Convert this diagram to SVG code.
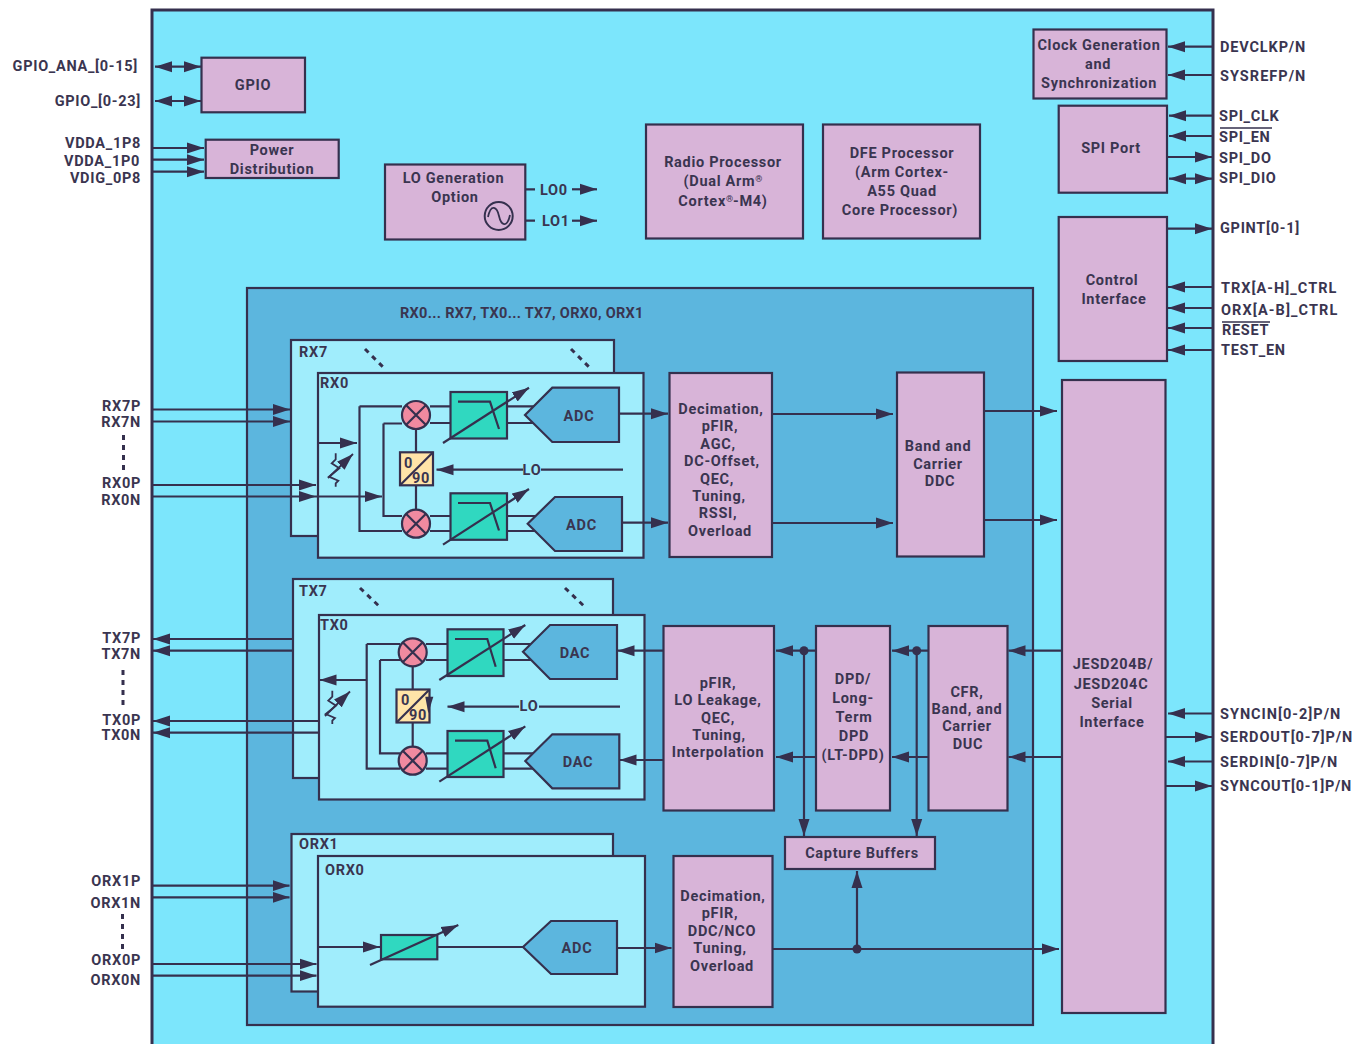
<svg xmlns="http://www.w3.org/2000/svg" width="1365" height="1044" viewBox="0 0 1365 1044">
<style>
text{font-family:"Roboto","Liberation Sans",sans-serif;font-weight:700;font-size:14.5px;letter-spacing:.7px;fill:#3a3550}
.m{text-anchor:middle}.e{text-anchor:end}
.sup{font-size:9px;letter-spacing:0}
.b{fill:#d8b4d8;stroke:#35304e;stroke-width:2.2}
.l{fill:#a0edfc;stroke:#35304e;stroke-width:2.2}
.c{fill:#5cb6de;stroke:#35304e;stroke-width:2.2}
.t{fill:#30d8c0;stroke:#35304e;stroke-width:2.2}
.k{fill:none;stroke:#35304e;stroke-width:2.2}
.mx{fill:#f08aa0;stroke:#35304e;stroke-width:2.2}
.y{fill:#ffe4a8;stroke:#35304e;stroke-width:2.2}
.a{marker-end:url(#ah)}
.d{marker-end:url(#ah);marker-start:url(#as)}
.ds{fill:none;stroke:#35304e;stroke-width:3;stroke-dasharray:5 5}
.dot{fill:#35304e}
</style>
<defs>
<marker id="ah" markerUnits="userSpaceOnUse" markerWidth="18" markerHeight="12" refX="17" refY="6" orient="auto"><path d="M0,0.5L17,6L0,11.5z" fill="#35304e"/></marker>
<marker id="as" markerUnits="userSpaceOnUse" markerWidth="18" markerHeight="12" refX="1" refY="6" orient="auto"><path d="M18,0.5L1,6L18,11.5z" fill="#35304e"/></marker>
</defs>
<rect width="1365" height="1044" fill="#fff"/>
<rect id="chip" x="152" y="10" width="1061" height="1050" fill="#7ce6fc" stroke="#35304e" stroke-width="3"/>
<g id="transceiver"><rect class="c" x="247" y="288" width="786" height="737"/><text x="400" y="318" style="letter-spacing:.3px">RX0... RX7, TX0... TX7, ORX0, ORX1</text></g>

<g id="gpio"><rect class="b" x="201.5" y="57.7" width="103.5" height="54.6"/><text class="m" x="253" y="90">GPIO</text></g>
<g id="power"><rect class="b" x="205.7" y="139.7" width="133" height="38.3"/><text class="m" x="272" y="155">Power</text><text class="m" x="272" y="174">Distribution</text></g>
<g id="lo-gen"><rect class="b" x="385" y="164.5" width="140.3" height="75"/><text class="m" x="453.5" y="183">LO Generation</text><text class="m" x="455" y="202">Option</text><circle cx="498.7" cy="216" r="14" fill="none" stroke="#35304e" stroke-width="2"/><path class="k" style="stroke-width:1.8" d="M488,217C491,203 497,207 499,216S507,229 510,215"/></g>
<g id="radio"><rect class="b" x="646" y="124.5" width="157" height="114"/><text class="m" x="723" y="167">Radio Processor</text><text class="m" x="723" y="186">(Dual Arm<tspan class="sup" dy="-4">®</tspan></text><text class="m" x="723" y="206">Cortex<tspan class="sup" dy="-4">®</tspan><tspan dy="4">-M4)</tspan></text></g>
<g id="dfe"><rect class="b" x="823" y="124.5" width="157" height="114"/><text class="m" x="902" y="158">DFE Processor</text><text class="m" x="902" y="177">(Arm Cortex-</text><text class="m" x="902" y="196">A55 Quad</text><text class="m" x="900" y="215">Core Processor)</text></g>
<g id="clock"><rect class="b" x="1033.5" y="29.5" width="133" height="69"/><text class="m" x="1099" y="50">Clock Generation</text><text class="m" x="1098" y="69">and</text><text class="m" x="1099" y="88">Synchronization</text></g>
<g id="spi"><rect class="b" x="1058.7" y="105.7" width="108.3" height="87"/><text class="m" x="1111" y="153">SPI Port</text></g>
<g id="control"><rect class="b" x="1058.7" y="217" width="108.3" height="144"/><text class="m" x="1112" y="285">Control</text><text class="m" x="1114" y="304">Interface</text></g>

<g id="rx7"><rect class="l" x="291" y="340" width="323" height="196"/><text x="299" y="357">RX7</text><path class="ds" d="M365,349L385,369M571,349L591,369"/></g>
<g id="rx0"><rect class="l" x="318" y="373" width="325.5" height="184.7"/><text x="320" y="388">RX0</text>
<path class="k" d="M359.5,406.3H402M359.5,406.3V531H402M383.5,423.5H402M383.5,423.5V516H402M430,406.3H450M430,423H450M430,516H450M430,531H450M507,406.3H537M507,423H537M507,516H540M507,531H540M416,429V452M416,485V510"/>
<path class="k a" d="M318,443H357"/><path class="k a" d="M523,469.7H436.5"/><path class="k" d="M623,469.7H541"/><text class="m" x="532" y="474.5">LO</text>
<path class="k" style="stroke-width:1.8" d="M335.7,453.3V459.3L331.7,463.3L339.3,468.3L329,476.7L338.3,480.7L335.7,483.3V486.7"/><path class="k a" style="stroke-width:1.8" d="M328,478L353,454"/>
<g><circle class="mx" cx="416" cy="415" r="14"/><path class="k" d="M406,405L426,425M426,405L406,425"/></g>
<g><circle class="mx" cx="416" cy="523.7" r="14"/><path class="k" d="M406,513.7L426,533.7M426,513.7L406,533.7"/></g>
<rect class="y" x="400" y="452.3" width="33" height="33"/><path class="k" d="M400,485.3L433,452.3"/><text x="404" y="468">0</text><text x="412" y="483">90</text>
<rect class="t" x="450.5" y="392" width="56.5" height="46.5"/><path class="k" d="M458,401.7H490L499,429"/><path class="k a" d="M443,443L529,387.7"/>
<rect class="t" x="450.5" y="493.3" width="56.5" height="46.5"/><path class="k" d="M458,503H490L499,530.5"/><path class="k a" d="M443,544.7L529,489"/>
<polygon class="c" points="525,415 552.3,387.7 619,387.7 619,442 552.3,442"/><text class="m" x="579" y="421">ADC</text>
<polygon class="c" points="527.7,523.7 555,497 622,497 622,551 555,551"/><text class="m" x="581.5" y="530">ADC</text></g>

<g id="tx7"><rect class="l" x="293" y="579" width="320" height="199"/><text x="299" y="596">TX7</text><path class="ds" d="M360,588L380,607M565,588L585,607"/></g>
<g id="tx0"><rect class="l" x="319" y="615" width="325.5" height="184.5"/><text x="320" y="630">TX0</text>
<path class="k" d="M366.7,644H400M366.7,644V768.7H400M380,660H400M380,660V753.3H400M426,644H447M426,660H447M426,753.3H447M426,768.7H447M504,644H535M504,660H535M504,753.3H537M504,768.7H537M412.7,665V689M412.7,723V747"/>
<path class="k a" d="M367,680H319.5"/><path class="k a" d="M519,706.7H447.5"/><path class="k" d="M620,706.7H539"/><text class="m" x="529" y="711">LO</text>
<path class="k" style="stroke-width:1.8" d="M332.3,690.7V696.7L328.3,700.7L336,705.7L325.7,714L335,718L332.3,720.7V724"/><path class="k a" style="stroke-width:1.8" d="M325,716L350,691.5"/>
<g><circle class="mx" cx="412.7" cy="652.3" r="14"/><path class="k" d="M402.7,642.3L422.7,662.3M422.7,642.3L402.7,662.3"/></g>
<g><circle class="mx" cx="412.7" cy="760.7" r="14"/><path class="k" d="M402.7,750.7L422.7,770.7M422.7,750.7L402.7,770.7"/></g>
<rect class="y" x="396.5" y="689.5" width="33" height="33"/><path class="k" d="M396.5,722.5L429.5,689.5"/><text x="401" y="705">0</text><text x="409" y="720">90</text><polygon class="dot" points="425.3,696.7 433.3,696.7 428.3,713.3"/>
<rect class="t" x="447.5" y="629.3" width="56" height="46.7"/><path class="k" d="M455,639H487.3L495.7,666.7"/><path class="k a" d="M439.3,680L525.3,625"/>
<rect class="t" x="447.5" y="731" width="56" height="46"/><path class="k" d="M455,740.7H487.3L495.7,768.3"/><path class="k a" d="M439.3,781.7L525.3,726.3"/>
<polygon class="c" points="523,651.7 550,625 617,625 617,679 550,679"/><text class="m" x="575" y="658">DAC</text>
<polygon class="c" points="525.3,761 552.3,734.3 619.3,734.3 619.3,788.3 552.3,788.3"/><text class="m" x="578" y="767">DAC</text></g>

<g id="orx1"><rect class="l" x="291.5" y="834" width="321.5" height="157.5"/><text x="299" y="849">ORX1</text></g>
<g id="orx0"><rect class="l" x="318" y="856" width="327" height="150.7"/><text x="325" y="875">ORX0</text>
<path class="k a" d="M318,947H380"/><path class="k" d="M437,947H523"/>
<rect class="t" x="381" y="935" width="56.3" height="24.3"/><path class="k a" d="M370,965L458.3,925"/>
<polygon class="c" points="523,947 551,921 617,921 617,974 551,974"/><text class="m" x="577" y="953">ADC</text></g>

<g id="decim-rx"><rect class="b" x="669.5" y="373" width="102.5" height="184"/><text class="m" x="721" y="414">Decimation,</text><text class="m" x="720" y="431">pFIR,</text><text class="m" x="718" y="449">AGC,</text><text class="m" x="722" y="466">DC-Offset,</text><text class="m" x="717" y="484">QEC,</text><text class="m" x="719" y="501">Tuning,</text><text class="m" x="718" y="518">RSSI,</text><text class="m" x="720" y="536">Overload</text></g>
<g id="band-ddc"><rect class="b" x="897" y="372.5" width="87" height="184"/><text class="m" x="938" y="451">Band and</text><text class="m" x="938" y="469">Carrier</text><text class="m" x="940" y="486">DDC</text></g>
<g id="pfir-tx"><rect class="b" x="663.5" y="626" width="110.5" height="184.5"/><text class="m" x="718" y="688">pFIR,</text><text class="m" x="718" y="705">LO Leakage,</text><text class="m" x="718" y="723">QEC,</text><text class="m" x="719" y="740">Tuning,</text><text class="m" x="718" y="757">Interpolation</text></g>
<g id="dpd"><rect class="b" x="816" y="626" width="74" height="184.5"/><text class="m" x="853" y="684">DPD/</text><text class="m" x="853" y="703">Long-</text><text class="m" x="854" y="722">Term</text><text class="m" x="854" y="741">DPD</text><text class="m" x="853" y="760">(LT-DPD)</text></g>
<g id="cfr"><rect class="b" x="928.5" y="626" width="79" height="184.5"/><text class="m" x="967" y="697">CFR,</text><text class="m" x="967" y="714">Band, and</text><text class="m" x="967" y="731">Carrier</text><text class="m" x="968" y="749">DUC</text></g>
<g id="capture"><rect class="b" x="785" y="837" width="150" height="32"/><text class="m" x="862" y="858">Capture Buffers</text></g>
<g id="decim-orx"><rect class="b" x="673.5" y="856" width="99" height="151"/><text class="m" x="723" y="901">Decimation,</text><text class="m" x="720" y="918">pFIR,</text><text class="m" x="722" y="936">DDC/NCO</text><text class="m" x="720" y="953">Tuning,</text><text class="m" x="722" y="971">Overload</text></g>
<g id="jesd"><rect class="b" x="1062" y="380" width="103.5" height="633"/><text class="m" x="1113" y="669">JESD204B/</text><text class="m" x="1111" y="689">JESD204C</text><text class="m" x="1112" y="708">Serial</text><text class="m" x="1112" y="727">Interface</text></g>

<g id="connectors" class="k">
<path class="d" d="M155,66.7H201"/><path class="d" d="M155,101H201"/>
<path class="a" d="M152,148H204"/><path class="a" d="M152,159.7H204"/><path class="a" d="M152,171.7H204"/>
<path d="M525,189.3H535M525,220.7H535"/><path class="a" d="M572,189.3H597"/><path class="a" d="M572,220.7H597"/>
<path class="a" d="M1213,46.7H1168"/><path class="a" d="M1213,75H1168"/>
<path class="a" d="M1213,115.7H1169"/><path class="a" d="M1213,136H1169"/><path class="a" d="M1167,157H1212"/><path class="d" d="M1169,178.7H1212"/>
<path class="a" d="M1167,228.7H1212"/><path class="a" d="M1213,287H1168"/><path class="a" d="M1213,308H1168"/><path class="a" d="M1213,328H1168"/><path class="a" d="M1213,350H1168"/>
<path class="a" d="M1213,713.5H1168"/><path class="a" d="M1166,737H1212"/><path class="a" d="M1213,761.5H1168"/><path class="a" d="M1166,786H1212"/>
<path class="a" d="M152,409.5H290"/><path class="a" d="M152,421.5H290"/><path class="a" d="M152,485H316"/><path class="a" d="M152,496.5H316"/><path class="a" d="M316,496.5H382"/>
<path class="a" d="M619,413.7H668"/><path class="a" d="M622,522.7H668"/><path class="a" d="M772,414H893"/><path class="a" d="M772,523H893"/><path class="a" d="M984,411H1057"/><path class="a" d="M984,520H1057"/>
<path class="a" d="M293,639H153"/><path class="a" d="M293,650.7H153"/><path class="a" d="M319,721H153"/><path class="a" d="M319,732.7H153"/>
<path class="a" d="M663.5,650.7H617.5"/><path class="a" d="M663.5,760H619.5"/>
<path class="a" d="M816,650.7H776"/><path class="a" d="M816,757H776"/><path class="a" d="M928.5,650.7H892"/><path class="a" d="M928.5,757H892"/><path class="a" d="M1062,650.7H1008.5"/><path class="a" d="M1062,757H1008.5"/>
<path class="a" d="M804,650.7V836"/><path class="a" d="M916.7,650.7V836"/>
<path class="a" d="M152,885.7H289.5"/><path class="a" d="M152,897.3H289.5"/><path class="a" d="M152,964H316.5"/><path class="a" d="M152,975.7H316.5"/>
<path class="a" d="M617,948H671.5"/><path class="a" d="M772.5,949H1059"/><path class="a" d="M857,949V871"/>
<circle class="dot" cx="804" cy="650.7" r="4.5" stroke="none"/><circle class="dot" cx="916.7" cy="650.7" r="4.5" stroke="none"/><circle class="dot" cx="857" cy="949" r="4.5" stroke="none"/>
<path class="ds" d="M123.5,435V472M123,670V708M122.5,914V951"/>
<path style="stroke-width:1.5" d="M1220,128H1272M1222,322H1270"/>
</g>

<g id="labels-left">
<text class="e" x="138" y="71">GPIO_ANA_[0-15]</text><text class="e" x="141" y="106">GPIO_[0-23]</text>
<text class="e" x="141" y="148">VDDA_1P8</text><text class="e" x="140" y="166">VDDA_1P0</text><text class="e" x="141" y="183">VDIG_0P8</text>
<text class="e" x="141" y="411">RX7P</text><text class="e" x="141" y="427">RX7N</text><text class="e" x="141" y="488">RX0P</text><text class="e" x="141" y="505">RX0N</text>
<text class="e" x="141" y="643">TX7P</text><text class="e" x="141" y="659">TX7N</text><text class="e" x="141" y="725">TX0P</text><text class="e" x="141" y="740">TX0N</text>
<text class="e" x="141" y="886">ORX1P</text><text class="e" x="141" y="908">ORX1N</text><text class="e" x="141" y="965">ORX0P</text><text class="e" x="141" y="985">ORX0N</text>
</g>
<g id="labels-right">
<text x="1220" y="52" textLength="86">DEVCLKP/N</text><text x="1220" y="81" textLength="86">SYSREFP/N</text><text x="1219" y="121">SPI_CLK</text><text x="1219" y="142">SPI_EN</text><text x="1219" y="163">SPI_DO</text><text x="1219" y="183">SPI_DIO</text>
<text x="1220" y="233">GPINT[0-1]</text><text x="1221" y="293" textLength="116">TRX[A-H]_CTRL</text><text x="1221" y="315" textLength="117">ORX[A-B]_CTRL</text><text x="1222" y="335">RESET</text><text x="1221" y="355">TEST_EN</text>
<text x="1220" y="719" textLength="121">SYNCIN[0-2]P/N</text><text x="1220" y="742" textLength="133">SERDOUT[0-7]P/N</text><text x="1220" y="767" textLength="118">SERDIN[0-7]P/N</text><text x="1220" y="791" textLength="132">SYNCOUT[0-1]P/N</text>
<text x="540" y="195">LO0</text><text x="542" y="226">LO1</text>
</g>
</svg>
